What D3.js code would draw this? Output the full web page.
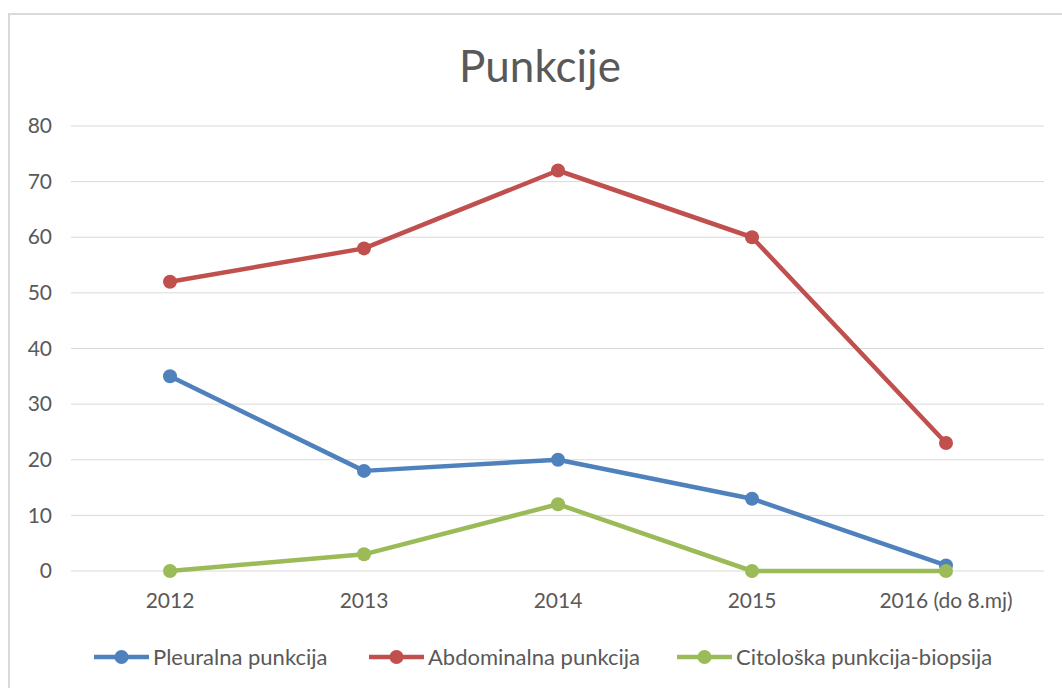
<!DOCTYPE html>
<html>
<head>
<meta charset="utf-8">
<script src="https://cdn.jsdelivr.net/npm/d3@7"></script>
<style>
  body { margin: 0; background: #fff; }
  text { font-family: Lato, "Liberation Sans", sans-serif; fill: #595959; }
</style>
</head>
<body>
<svg id="chart" width="1062" height="688"></svg>
<script>
const categories = ["2012", "2013", "2014", "2015", "2016 (do 8.mj)"];
const pleuralna = [35, 18, 20, 13, 1];
const abdominalna = [52, 58, 72, 60, 23];
const citoloska = [0, 3, 12, 0, 0];
const yTicks = [0, 10, 20, 30, 40, 50, 60, 70, 80];

const series = [
  { name: "Pleuralna punkcija", values: pleuralna, color: "#4f81bd" },
  { name: "Abdominalna punkcija", values: abdominalna, color: "#c0504d" },
  { name: "Citološka punkcija-biopsija", values: citoloska, color: "#9bbb59" }
];

const svg = d3.select("#chart");

// outer frame
svg.append("rect")
  .attr("x", 9).attr("y", 14)
  .attr("width", 1070).attr("height", 700)
  .attr("fill", "none")
  .attr("stroke", "#d9d9d9")
  .attr("stroke-width", 2);

svg.append("text")
  .attr("x", 540).attr("y", 82)
  .attr("text-anchor", "middle")
  .style("font-size", "44px")
  .text("Punkcije");

const x = d3.scaleBand().domain(categories).range([73, 1043]);
const y = d3.scaleLinear().domain([0, 80]).range([571, 126]);

// gridlines
svg.append("g")
  .selectAll("line")
  .data(yTicks)
  .join("line")
  .attr("x1", 71).attr("x2", 1044)
  .attr("y1", d => y(d)).attr("y2", d => y(d))
  .attr("stroke", "#d9d9d9")
  .attr("stroke-width", 1);

const yAxis = svg.append("g")
  .attr("transform", "translate(52,0)")
  .call(d3.axisLeft(y).tickValues(yTicks).tickSize(0).tickPadding(0));
yAxis.select(".domain").remove();
yAxis.selectAll("text").style("font-size", "21px").attr("fill", "#595959");

const xAxis = svg.append("g")
  .attr("transform", "translate(0,571)")
  .call(d3.axisBottom(x).tickSize(0).tickPadding(22));
xAxis.select(".domain").remove();
xAxis.selectAll("text").style("font-size", "21px").attr("fill", "#595959");

const line = d3.line()
  .x((d, i) => x(categories[i]) + x.bandwidth() / 2)
  .y(d => y(d));

series.forEach(s => {
  const g = svg.append("g");
  g.append("path")
    .datum(s.values)
    .attr("d", line)
    .attr("fill", "none")
    .attr("stroke", s.color)
    .attr("stroke-width", 4.5)
    .attr("stroke-linejoin", "round");
  g.selectAll("circle")
    .data(s.values)
    .join("circle")
    .attr("cx", (d, i) => x(categories[i]) + x.bandwidth() / 2)
    .attr("cy", d => y(d))
    .attr("r", 7)
    .attr("fill", s.color);
});

// legend
const legendX = [94, 369, 677];
const legend = svg.append("g").attr("transform", "translate(0,657)");
series.forEach((s, i) => {
  const lg = legend.append("g").attr("transform", `translate(${legendX[i]},0)`);
  lg.append("line")
    .attr("x1", 0).attr("x2", 55)
    .attr("stroke", s.color).attr("stroke-width", 4.5);
  lg.append("circle").attr("cx", 27.5).attr("r", 7).attr("fill", s.color);
  lg.append("text")
    .attr("x", 59).attr("dy", "0.35em")
    .style("font-size", "22px")
    .text(s.name);
});
</script>
</body>
</html>
